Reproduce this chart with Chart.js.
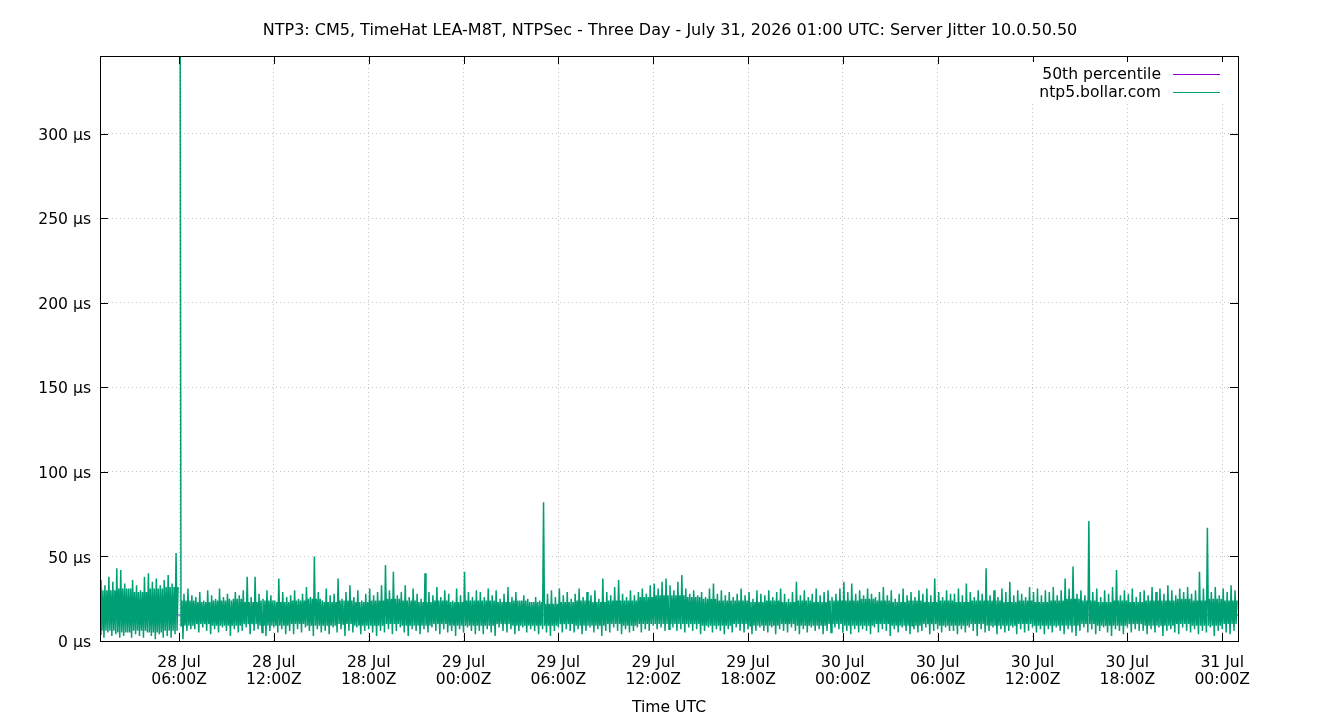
<!DOCTYPE html>
<html>
<head>
<meta charset="utf-8">
<script src="https://cdn.jsdelivr.net/npm/chart.js@4/dist/chart.umd.min.js"></script>
<style>
  html, body { margin: 0; padding: 0; background: #fff; }
  #wrap { width: 1340px; height: 720px; }
</style>
</head>
<body>
<div id="wrap"><canvas id="jitterChart" width="1340" height="720"></canvas></div>
<script>
// hours since 28 Jul 00:00 UTC
const startHour = 1;
const endHour = 73;
const binHours = 0.25;

const xTickHours = [6, 12, 18, 24, 30, 36, 42, 48, 54, 60, 66, 72];
const xTickLabels = [
  ['28 Jul', '06:00Z'], ['28 Jul', '12:00Z'], ['28 Jul', '18:00Z'],
  ['29 Jul', '00:00Z'], ['29 Jul', '06:00Z'], ['29 Jul', '12:00Z'], ['29 Jul', '18:00Z'],
  ['30 Jul', '00:00Z'], ['30 Jul', '06:00Z'], ['30 Jul', '12:00Z'], ['30 Jul', '18:00Z'],
  ['31 Jul', '00:00Z']
];
const yTicks = [0, 50, 100, 150, 200, 250, 300];

const percentile50 = 15.4;

// server jitter in µs, high / low per 15 minute bin (null = no data)
const jitterHi = [
  36, 33, 38, 35, 43, 42, 34, 31, 36, 33, 30, 38, 40, 35, 37, 33, 36, 39, 34, 52, 420, 28, 31, 27,
  26, 29, 24, 30, 27, 25, 31, 26, 28, 24, 29, 27, 30, 38, 26, 38, 28, 25, 30, 27, 24, 37, 29, 26,
  27, 30, 25, 28, 32, 26, 50, 29, 24, 31, 27, 28, 37, 25, 29, 33, 26, 30, 24, 28, 31, 27, 29, 33,
  45, 30, 41, 27, 29, 33, 26, 31, 28, 25, 40, 29, 27, 32, 26, 30, 28, 24, 31, 27, 41, 29, 26, 30,
  29, 26, 31, 27, 30, 25, 28, 32, 26, 29, 24, 27, 25, 23, 26, 24, 82, 28, 30, 26, 31, 27, 29, 25,
  28, 31, 26, 29, 27, 30, 25, 37, 29, 27, 32, 36, 28, 26, 30, 27, 29, 31, 28, 33, 34, 31, 35, 37,
  33, 30, 35, 39, 31, 28, 30, 27, 29, 26, 31, 34, 28, 30, 27, 29, 26, 28, 31, 27, 29, 25, 30, 28,
  27, 30, 26, 29, 31, 28, 25, 29, 35, 27, 30, 26, 28, 31, 27, 29, 30, 26, 28, 31, 35, 29, 34, 28,
  30, 27, 31, 28, 26, 29, 32, 27, 30, 25, 28, 31, 27, 29, 26, 30, 28, 31, 27, 37, 29, 26, 30, 28,
  28, 31, 27, 34, 29, 26, 30, 28, 43, 27, 30, 26, 31, 29, 35, 27, 30, 28, 26, 32, 29, 31, 27, 30,
  29, 32, 27, 30, 37, 31, 44, 28, 30, 27, 71, 29, 31, 26, 30, 28, 32, 42, 27, 30, 28, 31, 26, 29,
  30, 27, 32, 29, 31, 28, 33, 30, 27, 31, 29, 32, 28, 30, 41, 31, 67, 29, 32, 27, 31, 29, 33, 30
];
const jitterLo = [
  4, 2, 5, 3, 4, 2, 3, 5, 2, 4, 3, 2, 5, 3, 1, 4, 2, 3, 2, 4, null, 1, 6, 7,
  7, 5, 8, 6, 4, 7, 5, 8, 6, 3, 7, 5, 6, 8, 4, 6, 7, 5, 3, 6, 8, 5, 7, 4,
  6, 4, 7, 5, 8, 6, 3, 7, 5, 6, 4, 8, 5, 7, 3, 6, 5, 8, 4, 6, 7, 5, 3, 6,
  5, 7, 4, 6, 8, 5, 3, 7, 6, 4, 7, 5, 8, 6, 4, 7, 5, 6, 3, 7, 5, 8, 6, 4,
  6, 4, 7, 5, 3, 8, 6, 5, 7, 4, 6, 8, 5, 7, 6, 4, 7, 5, 3, 6, 8, 5, 7, 6,
  5, 7, 4, 6, 8, 5, 7, 3, 6, 5, 8, 6, 4, 7, 5, 6, 8, 5, 7, 6, 9, 7, 8, 6,
  7, 8, 6, 7, 5, 8, 6, 7, 4, 6, 8, 5, 7, 6, 4, 7, 5, 8, 6, 5, 7, 4, 6, 8,
  6, 5, 8, 4, 7, 6, 5, 8, 6, 4, 7, 5, 8, 6, 7, 4, 6, 5, 8, 7, 5, 6, 4, 7,
  5, 7, 6, 4, 8, 5, 7, 6, 3, 7, 5, 8, 6, 4, 7, 5, 6, 8, 4, 6, 7, 5, 8, 6,
  6, 4, 7, 5, 8, 6, 3, 7, 5, 6, 8, 4, 7, 5, 6, 8, 4, 7, 5, 6, 8, 5, 7, 4,
  7, 5, 8, 6, 4, 7, 5, 3, 6, 8, 5, 7, 4, 6, 8, 5, 3, 7, 6, 4, 8, 5, 7, 6,
  6, 4, 7, 5, 8, 3, 6, 7, 5, 4, 8, 6, 5, 7, 4, 6, 5, 8, 3, 6, 7, 5, 4, 6
];
// dense core of the band, high / low per hour
const coreHi = [
  30, 31, 29, 31, 32, 24, 23, 24, 25, 23, 24, 23,
  24, 25, 23, 24, 23, 24, 25, 24, 23, 24, 23, 24,
  24, 23, 24, 23, 22, 23, 24, 23, 24, 24, 26, 27,
  27, 26, 25, 24, 24, 23, 24, 23, 24, 23, 24, 24,
  25, 24, 23, 24, 23, 24, 23, 24, 24, 23, 24, 23,
  24, 25, 24, 23, 24, 23, 24, 24, 25, 24, 25, 24
];
const coreLo = [
  6, 5, 6, 5, 6, 9, 10, 9, 9, 10, 9, 9,
  10, 9, 9, 10, 9, 9, 10, 9, 9, 10, 9, 9,
  9, 10, 9, 9, 9, 10, 9, 9, 10, 9, 10, 10,
  10, 10, 9, 9, 10, 9, 9, 10, 9, 9, 10, 9,
  9, 10, 9, 9, 10, 9, 9, 10, 9, 9, 10, 9,
  9, 9, 10, 9, 9, 10, 9, 9, 10, 9, 9, 10
];

const jitterPoints = [];
jitterHi.forEach((hi, i) => {
  const t = startHour + i * binHours;
  const h = Math.floor(i * binHours);
  jitterPoints.push({ x: t, y: jitterLo[i] });
  jitterPoints.push({ x: t + binHours / 4, y: hi });
  jitterPoints.push({ x: t + binHours / 2, y: coreLo[h] });
  jitterPoints.push({ x: t + binHours * 3 / 4, y: coreHi[h] });
});

Chart.defaults.font.family = '"DejaVu Sans", sans-serif';
Chart.defaults.font.size = 15.6;
Chart.defaults.color = '#000';

// gnuplot look: frame, inward mirrored ticks, keybox in the top right
const gnuplotFrame = {
  id: 'gnuplotFrame',
  afterDraw(chart) {
    const { ctx, chartArea: a, scales } = chart;
    const tl = 8;
    ctx.save();
    ctx.strokeStyle = '#000';
    ctx.lineWidth = 1;
    ctx.beginPath();
    scales.x.ticks.forEach(t => {
      const px = Math.round(scales.x.getPixelForValue(t.value)) + 0.5;
      ctx.moveTo(px, a.bottom); ctx.lineTo(px, a.bottom - tl);
      ctx.moveTo(px, a.top); ctx.lineTo(px, a.top + tl);
    });
    scales.y.ticks.forEach(t => {
      const py = Math.round(scales.y.getPixelForValue(t.value)) + 0.5;
      ctx.moveTo(a.left, py); ctx.lineTo(a.left + tl, py);
      ctx.moveTo(a.right, py); ctx.lineTo(a.right - tl, py);
    });
    ctx.stroke();
    ctx.strokeRect(Math.round(a.left) + 0.5, Math.round(a.top) + 0.5,
      Math.round(a.right - a.left), Math.round(a.bottom - a.top));

    // key
    const keyRight = a.right - 18;
    const sampleLen = 47;
    ctx.fillStyle = '#fff';
    ctx.fillRect(keyRight - 205, a.top + 6, 212, 41);
    ctx.font = '15.6px "DejaVu Sans", sans-serif';
    ctx.textAlign = 'right';
    ctx.textBaseline = 'middle';
    chart.data.datasets.forEach((ds, i) => {
      const y = a.top + 18.5 + i * 18;
      ctx.fillStyle = '#000';
      ctx.fillText(ds.label, keyRight - sampleLen - 12, y);
      ctx.strokeStyle = ds.borderColor;
      ctx.lineWidth = 1;
      ctx.beginPath();
      ctx.moveTo(keyRight - sampleLen, Math.round(y) - 0.5);
      ctx.lineTo(keyRight, Math.round(y) - 0.5);
      ctx.stroke();
    });
    ctx.restore();
  }
};

new Chart(document.getElementById('jitterChart'), {
  type: 'line',
  data: {
    datasets: [{
      label: '50th percentile',
      data: [{ x: startHour, y: percentile50 }, { x: endHour, y: percentile50 }],
      borderColor: '#9400d3',
      borderWidth: 1,
      pointRadius: 0,
      order: 2
    }, {
      label: 'ntp5.bollar.com',
      data: jitterPoints,
      borderColor: '#009e73',
      borderWidth: 1.5,
      pointRadius: 0,
      tension: 0,
      spanGaps: false,
      order: 1
    }]
  },
  options: {
    responsive: false,
    animation: false,
    events: [],
    layout: { padding: 0 },
    plugins: {
      legend: { display: false },
      tooltip: { enabled: false },
      title: {
        display: true,
        text: 'NTP3: CM5, TimeHat LEA-M8T, NTPSec - Three Day - July 31, 2026 01:00 UTC: Server Jitter 10.0.50.50',
        font: { size: 16, weight: 'normal' },
        color: '#000',
        padding: { top: 21, bottom: 15.8 }
      }
    },
    scales: {
      x: {
        type: 'linear',
        min: startHour,
        max: endHour,
        afterBuildTicks: s => { s.ticks = xTickHours.map(v => ({ value: v })); },
        afterFit: s => { s.height = 79; },
        ticks: {
          autoSkip: false,
          maxRotation: 0,
          padding: 13,
          font: { lineHeight: 1.1 },
          callback: (v, i) => xTickLabels[i]
        },
        grid: { color: '#c4c4c4', lineWidth: 1, drawTicks: false },
        border: { display: false, dash: [1, 3] },
        title: { display: true, text: 'Time UTC', padding: { top: 0, bottom: 3 } }
      },
      y: {
        min: 0,
        max: 346,
        afterBuildTicks: s => { s.ticks = yTicks.map(v => ({ value: v })); },
        afterFit: s => { s.width = 100; },
        ticks: {
          padding: 9,
          labelOffset: 2,
          callback: v => v + ' µs'
        },
        grid: { color: '#c4c4c4', lineWidth: 1, drawTicks: false },
        border: { display: false, dash: [1, 3] }
      },
      // empty right margin, keeps the title centred on the page
      yRight: {
        position: 'right',
        min: 0,
        max: 346,
        afterFit: s => { s.width = 102; },
        ticks: { display: false },
        grid: { display: false, drawTicks: false },
        border: { display: false }
      }
    }
  },
  plugins: [gnuplotFrame]
});
</script>
</body>
</html>
